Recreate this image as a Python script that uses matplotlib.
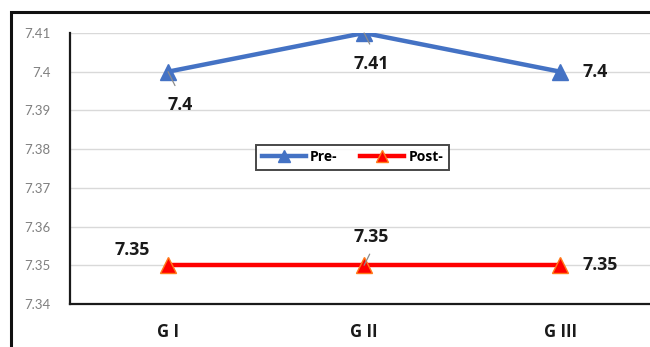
import matplotlib.pyplot as plt
from matplotlib.patches import Rectangle

grupos = ['G I', 'G II', 'G III']
pre = [7.40, 7.41, 7.40]
post = [7.35, 7.35, 7.35]
yticks = [7.34, 7.35, 7.36, 7.37, 7.38, 7.39, 7.40, 7.41]
ytick_labels = ['7.34', '7.35', '7.36', '7.37', '7.38', '7.39', '7.4', '7.41']

plt.rcParams['font.family'] = ['Lato', 'DejaVu Sans']
negrita = ['Open Sans', 'DejaVu Sans']

fig = plt.figure(figsize=(6.5, 3.47), dpi=100)
ax = fig.add_axes([0.1077, 0.124, 0.905, 0.781])

x = list(range(len(grupos)))
ax.plot(x, pre, color='#4472C4', lw=3.2, marker='^', markersize=11,
        markerfacecolor='#4472C4', markeredgecolor='#4472C4', label='Pre-', zorder=3)
ax.plot(x, post, color='#FF0000', lw=3.2, marker='^', markersize=11,
        markerfacecolor='#FF0000', markeredgecolor='#FF7A1A', label='Post-', zorder=3)

# etiquetas de datos (offsets en puntos) con pequeñas líneas guía
lab_pre = [(9, -24, 'center'), (5, -22, 'center'), (16, 0, 'left')]
lab_post = [(-26, 11, 'center'), (5, 20, 'center'), (16, 0, 'left')]
for serie, offs in ((pre, lab_pre), (post, lab_post)):
    for i, v in enumerate(serie):
        dx, dy, ha = offs[i]
        ax.annotate(f'{v:g}', xy=(i, v), xytext=(dx, dy), textcoords='offset points',
                    ha=ha, va='center', fontsize=12.8, fontweight='bold', color='#1a1a1a',
                    family=negrita, zorder=4)
# líneas guía grises
for i, v, d in ((0, 7.40, (5, -10)), (1, 7.41, (4, -8)), (1, 7.35, (4, 8))):
    ax.annotate('', xy=(i, v), xytext=d, textcoords='offset points',
                arrowprops=dict(arrowstyle='-', color='#8c8c8c', lw=0.9,
                                shrinkA=0, shrinkB=0), zorder=4)

ax.set_xlim(-0.5, 2.5)
ax.set_ylim(7.34, 7.41)
ax.set_yticks(yticks)
ax.set_yticklabels(ytick_labels)
ax.set_xticks(x)
ax.set_xticklabels(grupos, fontsize=12, fontweight='bold', color='#1a1a1a',
                   family=negrita)
ax.tick_params(axis='y', labelsize=9.5, labelcolor='#7f7f7f', length=0, pad=14)
ax.tick_params(axis='x', length=0, pad=14)
ax.grid(axis='y', color='#D9D9D9', lw=1)
ax.set_axisbelow(True)
for s in ('top', 'right'):
    ax.spines[s].set_visible(False)
for s in ('left', 'bottom'):
    ax.spines[s].set_color('#1a1a1a')
    ax.spines[s].set_linewidth(1.6)

leg = ax.legend(loc='center', bbox_to_anchor=(0.48, 0.542), ncol=2, frameon=True,
                fancybox=False, edgecolor='#1a1a1a', handlelength=3.2,
                columnspacing=1.6, handletextpad=0.3, borderpad=0.4, markerscale=0.8,
                prop={'weight': 'bold', 'size': 10, 'family': negrita})
leg.get_frame().set_linewidth(1.4)

# marco exterior
fig.patches.append(Rectangle((0.017, -0.05), 1.2, 1.016, transform=fig.transFigure,
                             fill=False, edgecolor='#111111', lw=2.2))

fig.savefig('out.png', dpi=100)
